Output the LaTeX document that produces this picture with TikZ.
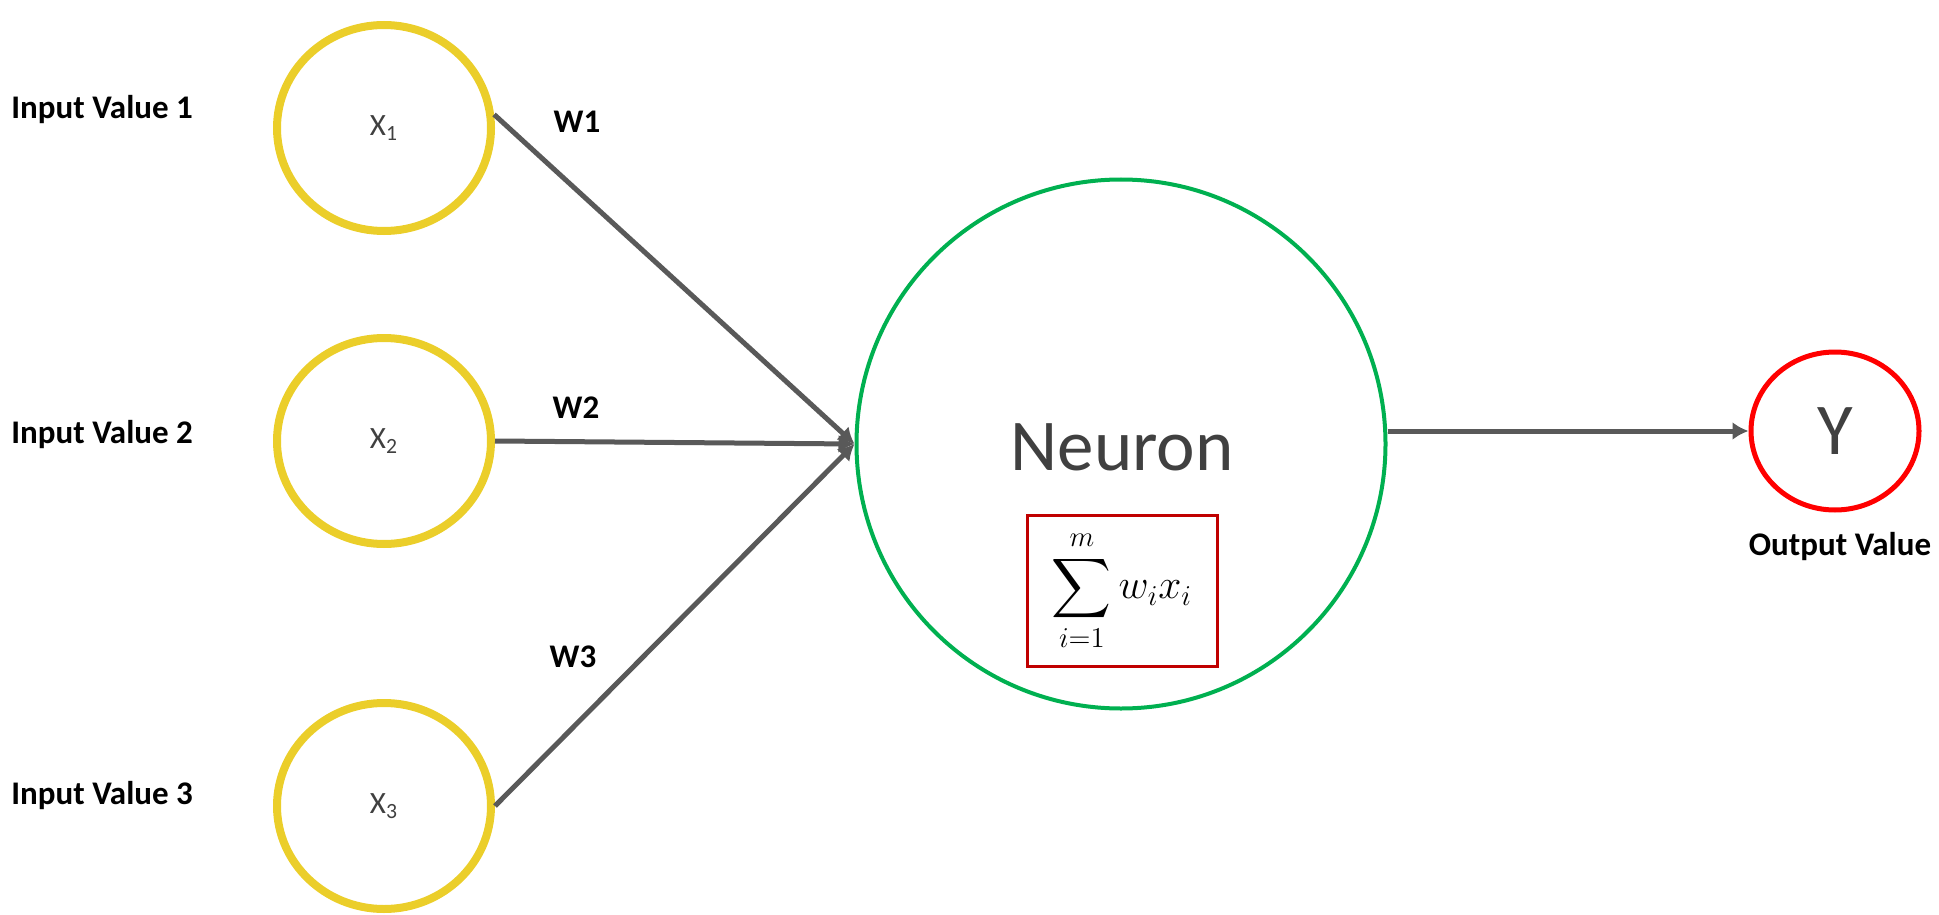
\documentclass[tikz,border=0pt]{standalone}
\usepackage{amsmath}
\usepackage{fontspec}
\setmainfont{Carlito}
\usepackage{tikz}
\usetikzlibrary{arrows.meta,shapes.geometric}
\definecolor{ringyellow}{RGB}{235,206,42}
\definecolor{ringgreen}{RGB}{0,176,80}
\definecolor{ringred}{RGB}{255,0,0}
\definecolor{boxred}{RGB}{192,0,0}
\definecolor{linegray}{RGB}{89,89,89}
\definecolor{textgray}{RGB}{64,64,64}

\begin{document}
\begin{tikzpicture}[x=0.5pt,y=-0.5pt]
    \def\px{0.5pt}
    \tikzstyle{inval}=[ellipse,draw=ringyellow,line width=4pt,inner sep=0pt,
        minimum width=214*\px,minimum height=206*\px,text=textgray,
        font=\fontsize{15.5}{18}\selectfont]
    \tikzstyle{neuronc}=[circle,draw=ringgreen,line width=2pt,inner sep=0pt,
        minimum size=529*\px]
    \tikzstyle{outval}=[ellipse,draw=ringred,line width=2.5pt,inner sep=0pt,
        minimum width=168*\px,minimum height=158*\px,text=textgray,
        font=\fontsize{36.5}{42}\selectfont]
    \tikzstyle{word}=[inner sep=0pt,font=\bfseries\fontsize{16.5}{20}\selectfont]
    \tikzstyle{big}=[inner sep=0pt,text=textgray,font=\fontsize{36.5}{42}\selectfont]
    \tikzstyle{fwd}=[draw=linegray,line width=2.5pt,-{Latex[length=8pt,width=9pt]}]

    \useasboundingbox (0,0) rectangle (1939,915);

    % inputs
    \node[inval] (x1) at (384,128) {X\textsubscript{1}};
    \node[inval] (x2) at (384,441) {X\textsubscript{2}};
    \node[inval] (x3) at (384,806) {X\textsubscript{3}};

    \node[word,anchor=west] (in1) at (11,110) {Input Value 1};
    \node[word,anchor=west] (in2) at (11,435) {Input Value 2};
    \node[word,anchor=west] (in3) at (11,796) {Input Value 3};

    % neuron and output
    \node[neuronc] (neuron) at (1121,444) {};
    \node[big] (ntext) at (1122,447) {Neuron};
    \node[draw=boxred,line width=1.5pt,minimum width=190*\px,minimum height=151*\px,
        inner sep=0pt] (sum) at (1122,591)
        {\fontsize{21}{25}\selectfont$\displaystyle\sum_{i=1}^{m} w_i x_i$};
    \node[outval] (y) at (1835,431) {Y};
    \node[word] (out) at (1840,547) {Output Value};

    % weights
    \node[word] (w1) at (577,122) {W1};
    \node[word] (w2) at (576,408) {W2};
    \node[word] (w3) at (573,657) {W3};

   \draw [fwd] (x1.7) -- (neuron.west);
   \draw [fwd] (x2.east) -- (neuron.west);
   \draw [fwd] (x3.east) -- (neuron.west);
   \draw [fwd] (y.west -| neuron.east) -- (y.west);

\end{tikzpicture}
\end{document}
